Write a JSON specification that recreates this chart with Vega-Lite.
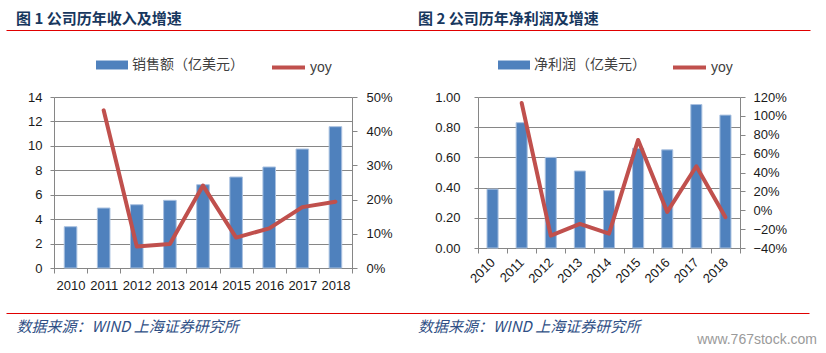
{
  "$schema": "https://vega.github.io/schema/vega-lite/v6.json",
  "padding": {"left": 6, "top": 5, "right": 0, "bottom": 0},
  "background": "white",
  "config": {
    "view": {"stroke": null},
    "font": "Liberation Sans",
    "axis": {
      "labelFont": "Liberation Sans",
      "labelFontSize": 13,
      "labelColor": "#1a1a1a",
      "domainColor": "#868686",
      "tickColor": "#868686",
      "gridColor": "#868686",
      "gridWidth": 1
    }
  },
  "datasets": {
    "revenue": [
      {"year": "2010", "sales": 3.38, "yoy": null},
      {"year": "2011", "sales": 4.91, "yoy": 0.461},
      {"year": "2012", "sales": 5.18, "yoy": 0.063},
      {"year": "2013", "sales": 5.54, "yoy": 0.070},
      {"year": "2014", "sales": 6.82, "yoy": 0.241},
      {"year": "2015", "sales": 7.45, "yoy": 0.089},
      {"year": "2016", "sales": 8.27, "yoy": 0.116},
      {"year": "2017", "sales": 9.74, "yoy": 0.178},
      {"year": "2018", "sales": 11.57, "yoy": 0.194}
    ],
    "profit": [
      {"year": "2010", "profit": 0.39, "yoy": null},
      {"year": "2011", "profit": 0.83, "yoy": 1.136},
      {"year": "2012", "profit": 0.60, "yoy": -0.269},
      {"year": "2013", "profit": 0.51, "yoy": -0.145},
      {"year": "2014", "profit": 0.38, "yoy": -0.248},
      {"year": "2015", "profit": 0.66, "yoy": 0.745},
      {"year": "2016", "profit": 0.65, "yoy": -0.018},
      {"year": "2017", "profit": 0.95, "yoy": 0.466},
      {"year": "2018", "profit": 0.88, "yoy": -0.074}
    ],
    "headers": [
      {"fig": "1", "title": "图  1  公司历年收入及增速"},
      {"fig": "2", "title": "图  2  公司历年净利润及增速"}
    ],
    "sources": [
      {"fig": "1", "src": "数据来源：WIND  上海证券研究所"},
      {"fig": "2", "src": "数据来源：WIND  上海证券研究所"}
    ]
  },
  "columns": 1,
  "spacing": 19,
  "concat": [
    {
      "width": 756,
      "height": 25,
      "data": {"name": "headers"},
      "mark": {"type": "text", "align": "left", "baseline": "middle", "dx": 10, "dy": 1, "font": "Noto Sans CJK SC", "fontSize": 15, "fontWeight": "bold", "color": "#17375E"},
      "encoding": {
        "x": {"field": "fig", "type": "nominal", "bandPosition": 0,
              "scale": {"type": "band", "paddingInner": 0, "paddingOuter": 0, "range": [-48, 756]},
              "axis": {"title": null, "labels": false, "ticks": false, "grid": false, "domainColor": "#E00000", "domainWidth": 1}},
        "text": {"field": "title"}
      }
    },
    {
      "columns": 1,
      "spacing": 21,
      "concat": [
        {
          "spacing": 20,
          "resolve": {"scale": {"fill": "independent", "stroke": "independent"}, "legend": {"fill": "independent", "stroke": "independent"}},
          "hconcat": [
            {
              "width": 298,
              "height": 171,
              "data": {"name": "revenue"},
              "layer": [
                {
                  "mark": {"type": "bar", "width": {"band": 0.38}, "stroke": "#A9C1E0", "strokeWidth": 1},
                  "encoding": {
                    "x": {"field": "year", "type": "ordinal", "scale": {"paddingInner": 0, "paddingOuter": 0},
                          "axis": {"title": null, "labelAngle": 0, "tickBand": "extent", "tickSize": 5, "labelPadding": 6, "labelFontSize": 13}},
                    "y": {"field": "sales", "type": "quantitative", "scale": {"domain": [0, 14]},
                          "axis": {"title": null, "values": [0, 2, 4, 6, 8, 10, 12, 14], "grid": true, "tickSize": 4, "labelPadding": 8, "minExtent": 48, "maxExtent": 48}},
                    "fill": {"datum": "销售额（亿美元）", "type": "nominal", "scale": {"range": ["#4F81BD"]},
                             "legend": {"orient": "none", "legendX": 42, "legendY": -48, "title": null, "symbolType": "M-1,-0.28H1V0.28H-1Z", "symbolSize": 1024, "symbolStrokeWidth": 0, "labelFont": "Noto Sans CJK SC", "labelFontSize": 14, "labelColor": "#404040", "labelOffset": 4, "padding": 0}}
                  }
                },
                {
                  "mark": {"type": "line", "strokeWidth": 4, "strokeJoin": "round", "strokeCap": "round"},
                  "encoding": {
                    "x": {"field": "year", "type": "ordinal"},
                    "y": {"field": "yoy", "type": "quantitative", "scale": {"domain": [0, 0.5]},
                          "axis": {"title": null, "orient": "right", "format": ".0%", "values": [0, 0.1, 0.2, 0.3, 0.4, 0.5], "grid": false, "tickSize": 5, "labelPadding": 9, "minExtent": 40, "maxExtent": 40}},
                    "stroke": {"datum": "yoy", "type": "nominal", "scale": {"range": ["#C0504D"]},
                               "legend": {"orient": "none", "legendX": 216, "legendY": -48, "title": null, "symbolType": "stroke", "symbolSize": 1089, "symbolStrokeWidth": 4, "labelFont": "Liberation Sans", "labelFontSize": 14, "labelColor": "#404040", "labelOffset": 3, "padding": 0}}
                  }
                }
              ],
              "resolve": {"scale": {"y": "independent"}}
            },
            {
              "width": 262,
              "height": 151,
              "data": {"name": "profit"},
              "layer": [
                {
                  "mark": {"type": "bar", "width": {"band": 0.38}, "stroke": "#A9C1E0", "strokeWidth": 1},
                  "encoding": {
                    "x": {"field": "year", "type": "ordinal", "scale": {"paddingInner": 0, "paddingOuter": 0},
                          "axis": {"title": null, "labelAngle": -45, "labelAlign": "right", "labelBaseline": "middle", "tickBand": "extent", "tickSize": 5, "labelPadding": 7}},
                    "y": {"field": "profit", "type": "quantitative", "scale": {"domain": [0, 1]},
                          "axis": {"title": null, "values": [0, 0.2, 0.4, 0.6, 0.8, 1.0], "format": ".2f", "grid": true, "tickSize": 4, "labelPadding": 14, "minExtent": 65, "maxExtent": 65}},
                    "fill": {"datum": "净利润（亿美元）", "type": "nominal", "scale": {"range": ["#4F81BD"]},
                             "legend": {"orient": "none", "legendX": 20, "legendY": -48, "title": null, "symbolType": "M-1,-0.28H1V0.28H-1Z", "symbolSize": 1024, "symbolStrokeWidth": 0, "labelFont": "Noto Sans CJK SC", "labelFontSize": 14, "labelColor": "#404040", "labelOffset": 4, "padding": 0}}
                  }
                },
                {
                  "mark": {"type": "line", "strokeWidth": 4, "strokeJoin": "round", "strokeCap": "round"},
                  "encoding": {
                    "x": {"field": "year", "type": "ordinal"},
                    "y": {"field": "yoy", "type": "quantitative", "scale": {"domain": [-0.4, 1.2]},
                          "axis": {"title": null, "orient": "right", "format": ".0%", "values": [-0.4, -0.2, 0, 0.2, 0.4, 0.6, 0.8, 1.0, 1.2], "grid": false, "tickSize": 5, "labelPadding": 8}},
                    "stroke": {"datum": "yoy", "type": "nominal", "scale": {"range": ["#C0504D"]},
                               "legend": {"orient": "none", "legendX": 193, "legendY": -48, "title": null, "symbolType": "stroke", "symbolSize": 1089, "symbolStrokeWidth": 4, "labelFont": "Liberation Sans", "labelFontSize": 14, "labelColor": "#404040", "labelOffset": 3, "padding": 0}}
                  }
                }
              ],
              "resolve": {"scale": {"y": "independent"}}
            }
          ]
        },
        {
          "width": 755,
          "height": 28,
          "data": {"name": "sources"},
          "title": {"text": "www.767stock.com", "orient": "bottom", "anchor": "end", "align": "right", "frame": "group", "font": "Liberation Sans", "fontSize": 14, "fontWeight": "normal", "color": "#9a9a9a", "offset": -8, "dx": 8},
          "mark": {"type": "text", "align": "left", "baseline": "middle", "dx": 10.6, "font": "Noto Sans CJK SC", "fontSize": 15, "fontStyle": "italic", "color": "#2F4F85"},
          "encoding": {
            "x": {"field": "fig", "type": "nominal", "bandPosition": 0,
                  "scale": {"type": "band", "paddingInner": 0, "paddingOuter": 0, "range": [-48, 755]},
                  "axis": {"title": null, "orient": "top", "labels": false, "ticks": false, "grid": false, "domainColor": "#E00000", "domainWidth": 1}},
            "text": {"field": "src"}
          }
        }
      ]
    }
  ]
}
